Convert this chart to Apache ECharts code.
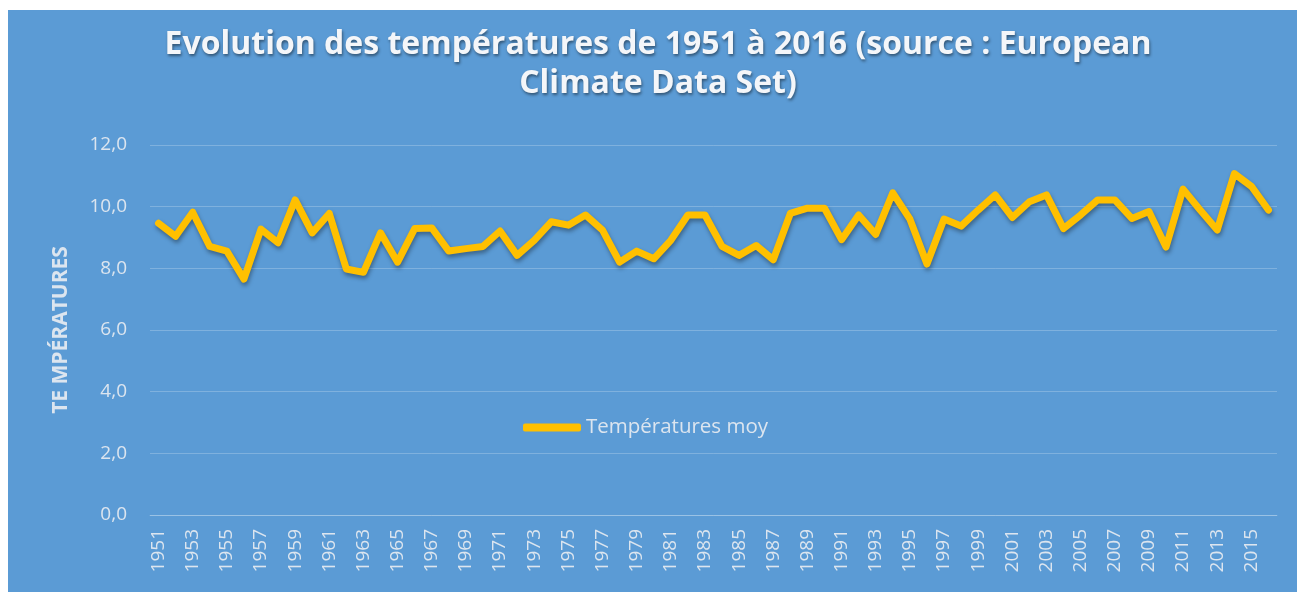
<!DOCTYPE html>
<html>
<head>
<meta charset="utf-8">
<script src="https://cdn.jsdelivr.net/npm/echarts@6/dist/echarts.min.js"></script>
<style>
  html, body { margin: 0; padding: 0; background: #ffffff; }
  .bg { position: absolute; left: 8px; top: 10px; width: 1289px; height: 582px; background: #5b9bd5; }
  #myChart { position: absolute; left: 0; top: 0; width: 1297px; height: 592px; }
</style>
</head>
<body>
<div class="bg"></div>
<div id="myChart"></div>
<script>
// années
var years = [];
for (var y = 1951; y <= 2016; y++) { years.push(String(y)); }

// températures moyennes
var tempMoy = [
  9.46, 9.04, 9.82, 8.71, 8.56, 7.65, 9.27, 8.83, 10.22, 9.15,
  9.78, 7.98, 7.87, 9.15, 8.20, 9.29, 9.31, 8.56, 8.64, 8.71,
  9.21, 8.42, 8.91, 9.51, 9.40, 9.73, 9.24, 8.20, 8.56, 8.31,
  8.91, 9.73, 9.73, 8.71, 8.42, 8.74, 8.28, 9.78, 9.95, 9.95,
  8.93, 9.73, 9.10, 10.45, 9.60, 8.14, 9.60, 9.37, 9.89, 10.38,
  9.65, 10.16, 10.38, 9.29, 9.73, 10.22, 10.22, 9.62, 9.84, 8.69,
  10.57, 9.89, 9.24, 11.07, 10.66, 9.89
];

var yTicks = { min: 0, max: 12, interval: 2 };

var labelColor = '#dce5ef';

var myChart = echarts.init(document.getElementById('myChart'));
var option = {
    backgroundColor: 'transparent',
    animation: false,
    title: {
        text: 'Evolution des températures de 1951 à 2016 (source : European\nClimate Data Set)',
        left: 658,
        textAlign: 'center',
        top: 25,
        padding: 0,
        textStyle: {
            fontFamily: 'Open Sans',
            fontWeight: 'bold',
            fontSize: 32,
            lineHeight: 39,
            color: '#f4f6f9',
            textShadowColor: 'rgba(0, 0, 0, 0.45)',
            textShadowBlur: 3,
            textShadowOffsetX: 1,
            textShadowOffsetY: 2
        }
    },
    legend: {
        left: 518,
        top: 412,
        icon: 'roundRect',
        itemWidth: 58,
        itemHeight: 8,
        itemGap: 3,
        textStyle: {
            fontFamily: 'Open Sans',
            fontSize: 20.5,
            color: labelColor
        },
        data: ['Températures moy']
    },
    grid: {
        left: 150,
        right: 20,
        top: 145,
        bottom: 77
    },
    xAxis: {
        type: 'category',
        data: years,
        boundaryGap: true,
        axisLine: { show: true, lineStyle: { color: 'rgba(255,255,255,0.22)', width: 1 } },
        axisTick: { show: false },
        axisLabel: {
            interval: 1,
            rotate: 90,
            margin: 14,
            fontFamily: 'Open Sans',
            fontSize: 19,
            color: labelColor
        }
    },
    yAxis: {
        type: 'value',
        min: yTicks.min,
        max: yTicks.max,
        interval: yTicks.interval,
        name: 'TE MPÉRATURES',
        nameLocation: 'middle',
        nameGap: 78,
        nameTextStyle: {
            fontFamily: 'Open Sans',
            fontWeight: 'bold',
            fontSize: 21,
            color: labelColor
        },
        axisLine: { show: false },
        axisTick: { show: false },
        splitLine: {
            show: true,
            lineStyle: { color: 'rgba(255,255,255,0.22)', width: 1 }
        },
        axisLabel: {
            margin: 23,
            fontFamily: 'Open Sans',
            fontSize: 19,
            color: labelColor,
            formatter: function (value) {
                return value.toFixed(1).replace('.', ',');
            }
        }
    },
    series: [
        {
            name: 'Températures moy',
            type: 'line',
            data: tempMoy,
            showSymbol: false,
            symbol: 'none',
            itemStyle: { color: '#ffc000' },
            lineStyle: {
                color: '#ffc000',
                width: 7,
                join: 'round',
                cap: 'round',
                shadowColor: 'rgba(0, 0, 0, 0.35)',
                shadowBlur: 4,
                shadowOffsetX: 1,
                shadowOffsetY: 3
            }
        }
    ]
};
myChart.setOption(option);
window.onresize = myChart.resize;
</script>
</body>
</html>
